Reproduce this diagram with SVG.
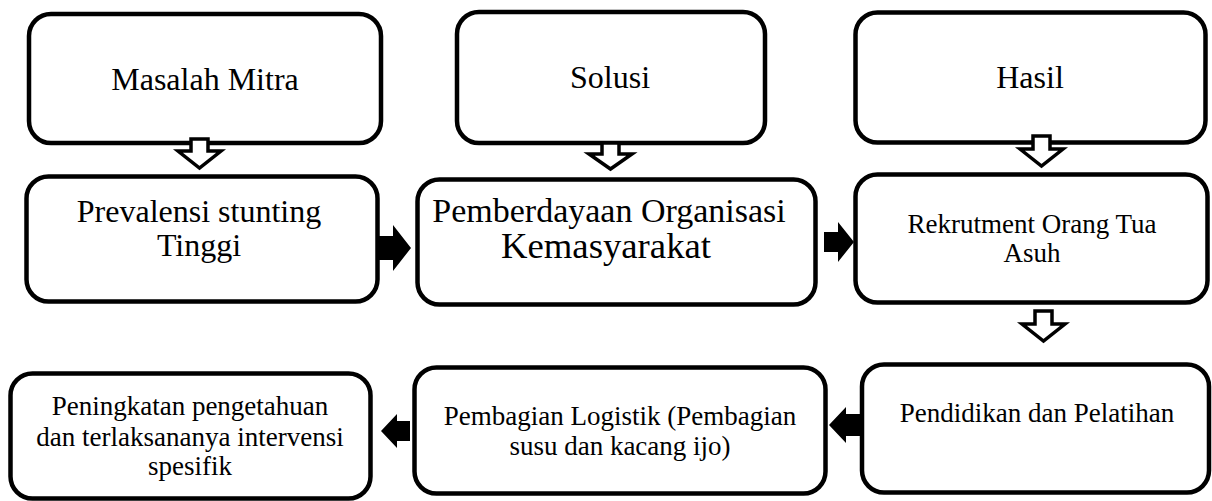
<svg xmlns="http://www.w3.org/2000/svg" width="1212" height="501" viewBox="0 0 1212 501">
<style>
.box{fill:#fff;stroke:#000;stroke-width:4.5}
text{font-family:"Liberation Serif","Times New Roman",serif;fill:#000;text-anchor:middle}
.big{font-size:32px}
.sm{font-size:27px}
.hol{fill:#fff;stroke:#000;stroke-width:3.5;stroke-linejoin:miter}
.sol{fill:#000;stroke:none}
</style>
<rect width="1212" height="501" fill="#fff"/>
<g id="n1"><rect class="box" x="29" y="14" width="352" height="129" rx="22"/><text class="big" x="205" y="90">Masalah Mitra</text></g>
<g id="n2"><rect class="box" x="26.5" y="176.5" width="351" height="125" rx="22"/><text class="big" x="199" y="222">Prevalensi stunting</text><text class="big" x="199" y="256">Tinggi</text></g>
<g id="n3"><rect class="box" x="457" y="12" width="308" height="131" rx="22"/><text class="big" x="610" y="88">Solusi</text></g>
<g id="n4"><rect class="box" x="417.5" y="179.5" width="398" height="125" rx="22"/><text x="609" y="222" style="font-size:34px">Pemberdayaan Organisasi</text><text x="606" y="258" style="font-size:35px" textLength="210" lengthAdjust="spacingAndGlyphs">Kemasyarakat</text></g>
<g id="n5"><rect class="box" x="855.5" y="12.5" width="350" height="130" rx="22"/><text class="big" x="1030" y="88">Hasil</text></g>
<g id="n6"><rect class="box" x="855.5" y="174.5" width="352" height="128" rx="22"/><text class="sm" x="1032" y="233">Rekrutment Orang Tua</text><text class="sm" x="1032" y="262">Asuh</text></g>
<g id="n7"><rect class="box" x="862" y="364.5" width="347" height="128" rx="22"/><text class="sm" x="1037" y="422">Pendidikan dan Pelatihan</text></g>
<g id="n8"><rect class="box" x="414.5" y="367.5" width="411" height="126" rx="22"/><text class="sm" x="620" y="425">Pembagian Logistik (Pembagian</text><text class="sm" x="620" y="455">susu dan kacang ijo)</text></g>
<g id="n9"><rect class="box" x="10.5" y="373.5" width="360" height="125" rx="22"/><text class="sm" x="190" y="415">Peningkatan pengetahuan</text><text class="sm" x="190" y="446">dan terlaksananya intervensi</text><text class="sm" x="190" y="475">spesifik</text></g>
<g id="connectors">
<polygon class="hol" points="191,139 208,139 208,151 221,151 199.5,168 178,151 191,151"/>
<polygon class="hol" points="602,143 619,143 619,154 632,154 610.5,169 589,154 602,154"/>
<polygon class="hol" points="1033,136 1050,136 1050,149 1063,149 1041.5,166 1020,149 1033,149"/>
<polygon class="hol" points="1035,311 1052,311 1052,324 1065,324 1043.5,341 1022,324 1035,324"/>
<polygon class="sol" points="378,236 393,236 393,225 411,248 393,271 393,260 378,260"/>
<polygon class="sol" points="824,232 838,232 838,222 854,242 838,262 838,252 824,252"/>
<polygon class="sol" points="862,414 846,414 846,407 829,425 846,443 846,436 862,436"/>
<polygon class="sol" points="410,421 397,421 397,414 381,431 397,448 397,441 410,441"/>
</g>
</svg>
